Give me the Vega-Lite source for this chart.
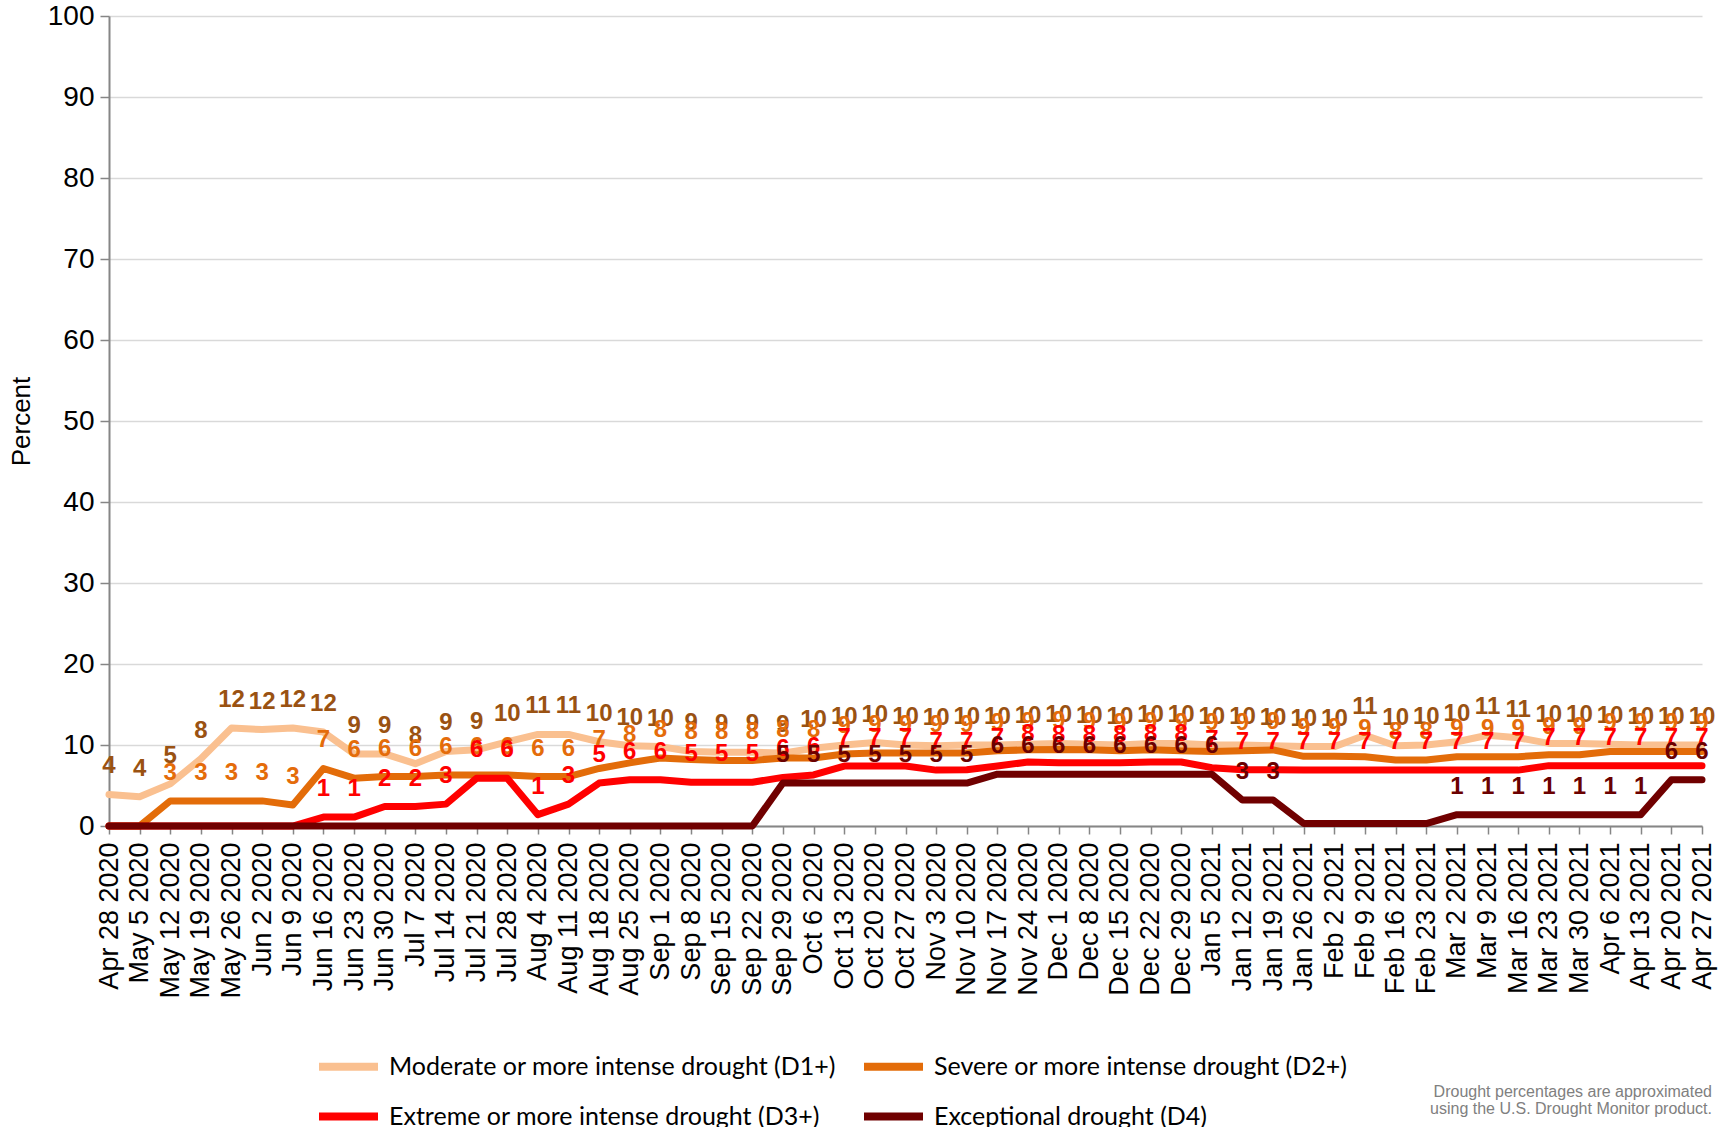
{
  "$schema": "https://vega.github.io/schema/vega-lite/v6.json",
  "width": 1593,
  "height": 810,
  "autosize": {"type": "none"},
  "padding": {"left": 109, "top": 16, "right": 33, "bottom": 301},
  "background": "white",
  "config": {"view": {"stroke": null}, "font": "Liberation Sans"},
  "title": {
    "text": ["Drought percentages are approximated", "using the U.S. Drought Monitor product."],
    "orient": "bottom",
    "anchor": "end",
    "align": "right",
    "frame": "group",
    "offset": 0,
    "dy": -49,
    "dx": 10,
    "fontSize": 16,
    "fontWeight": "normal",
    "color": "#808080",
    "lineHeight": 17,
    "font": "Liberation Sans"
  },
  "data": {
    "values": [
      {"week": "Apr 28 2020", "D1": 3.9, "D2": 0, "D3": 0, "D4": 0},
      {"week": "May 5 2020", "D1": 3.6, "D2": 0, "D3": 0, "D4": 0},
      {"week": "May 12 2020", "D1": 5.2, "D2": 3.1, "D3": 0, "D4": 0},
      {"week": "May 19 2020", "D1": 8.3, "D2": 3.1, "D3": 0, "D4": 0},
      {"week": "May 26 2020", "D1": 12.1, "D2": 3.1, "D3": 0, "D4": 0},
      {"week": "Jun 2 2020", "D1": 11.9, "D2": 3.1, "D3": 0, "D4": 0},
      {"week": "Jun 9 2020", "D1": 12.1, "D2": 2.6, "D3": 0, "D4": 0},
      {"week": "Jun 16 2020", "D1": 11.6, "D2": 7.1, "D3": 1.1, "D4": 0},
      {"week": "Jun 23 2020", "D1": 8.9, "D2": 5.9, "D3": 1.1, "D4": 0},
      {"week": "Jun 30 2020", "D1": 8.9, "D2": 6.1, "D3": 2.4, "D4": 0},
      {"week": "Jul 7 2020", "D1": 7.7, "D2": 6.1, "D3": 2.4, "D4": 0},
      {"week": "Jul 14 2020", "D1": 9.2, "D2": 6.3, "D3": 2.7, "D4": 0},
      {"week": "Jul 21 2020", "D1": 9.4, "D2": 6.3, "D3": 5.9, "D4": 0},
      {"week": "Jul 28 2020", "D1": 10.4, "D2": 6.3, "D3": 5.9, "D4": 0},
      {"week": "Aug 4 2020", "D1": 11.3, "D2": 6.1, "D3": 1.4, "D4": 0},
      {"week": "Aug 11 2020", "D1": 11.3, "D2": 6.1, "D3": 2.7, "D4": 0},
      {"week": "Aug 18 2020", "D1": 10.4, "D2": 7.1, "D3": 5.3, "D4": 0},
      {"week": "Aug 25 2020", "D1": 9.9, "D2": 7.8, "D3": 5.7, "D4": 0},
      {"week": "Sep 1 2020", "D1": 9.8, "D2": 8.4, "D3": 5.7, "D4": 0},
      {"week": "Sep 8 2020", "D1": 9.2, "D2": 8.2, "D3": 5.4, "D4": 0},
      {"week": "Sep 15 2020", "D1": 9.1, "D2": 8.1, "D3": 5.4, "D4": 0},
      {"week": "Sep 22 2020", "D1": 9.1, "D2": 8.1, "D3": 5.4, "D4": 0},
      {"week": "Sep 29 2020", "D1": 9.0, "D2": 8.4, "D3": 6.0, "D4": 5.3},
      {"week": "Oct 6 2020", "D1": 9.6, "D2": 8.4, "D3": 6.3, "D4": 5.3},
      {"week": "Oct 13 2020", "D1": 10.0, "D2": 8.9, "D3": 7.4, "D4": 5.3},
      {"week": "Oct 20 2020", "D1": 10.3, "D2": 9.0, "D3": 7.4, "D4": 5.3},
      {"week": "Oct 27 2020", "D1": 10.0, "D2": 9.0, "D3": 7.4, "D4": 5.3},
      {"week": "Nov 3 2020", "D1": 9.9, "D2": 9.0, "D3": 6.9, "D4": 5.3},
      {"week": "Nov 10 2020", "D1": 10.0, "D2": 9.0, "D3": 6.95, "D4": 5.3},
      {"week": "Nov 17 2020", "D1": 10.0, "D2": 9.3, "D3": 7.4, "D4": 6.4},
      {"week": "Nov 24 2020", "D1": 10.1, "D2": 9.4, "D3": 7.9, "D4": 6.4},
      {"week": "Dec 1 2020", "D1": 10.2, "D2": 9.45, "D3": 7.8, "D4": 6.4},
      {"week": "Dec 8 2020", "D1": 10.1, "D2": 9.4, "D3": 7.8, "D4": 6.4},
      {"week": "Dec 15 2020", "D1": 10.0, "D2": 9.3, "D3": 7.8, "D4": 6.4},
      {"week": "Dec 22 2020", "D1": 10.2, "D2": 9.4, "D3": 7.9, "D4": 6.4},
      {"week": "Dec 29 2020", "D1": 10.2, "D2": 9.3, "D3": 7.9, "D4": 6.4},
      {"week": "Jan 5 2021", "D1": 10.0, "D2": 9.2, "D3": 7.2, "D4": 6.4},
      {"week": "Jan 12 2021", "D1": 10.0, "D2": 9.3, "D3": 6.95, "D4": 3.2},
      {"week": "Jan 19 2021", "D1": 9.9, "D2": 9.4, "D3": 6.95, "D4": 3.2},
      {"week": "Jan 26 2021", "D1": 9.8, "D2": 8.6, "D3": 6.9, "D4": 0.3},
      {"week": "Feb 2 2021", "D1": 9.8, "D2": 8.6, "D3": 6.9, "D4": 0.3},
      {"week": "Feb 9 2021", "D1": 11.2, "D2": 8.55, "D3": 6.9, "D4": 0.3},
      {"week": "Feb 16 2021", "D1": 9.9, "D2": 8.15, "D3": 6.9, "D4": 0.3},
      {"week": "Feb 23 2021", "D1": 10.0, "D2": 8.15, "D3": 6.9, "D4": 0.3},
      {"week": "Mar 2 2021", "D1": 10.4, "D2": 8.55, "D3": 6.9, "D4": 1.4},
      {"week": "Mar 9 2021", "D1": 11.2, "D2": 8.55, "D3": 6.9, "D4": 1.4},
      {"week": "Mar 16 2021", "D1": 10.9, "D2": 8.55, "D3": 6.9, "D4": 1.4},
      {"week": "Mar 23 2021", "D1": 10.2, "D2": 8.8, "D3": 7.45, "D4": 1.4},
      {"week": "Mar 30 2021", "D1": 10.2, "D2": 8.8, "D3": 7.45, "D4": 1.4},
      {"week": "Apr 6 2021", "D1": 10.1, "D2": 9.2, "D3": 7.45, "D4": 1.4},
      {"week": "Apr 13 2021", "D1": 10.0, "D2": 9.2, "D3": 7.45, "D4": 1.4},
      {"week": "Apr 20 2021", "D1": 10.0, "D2": 9.2, "D3": 7.45, "D4": 5.7},
      {"week": "Apr 27 2021", "D1": 10.0, "D2": 9.2, "D3": 7.45, "D4": 5.7}
    ]
  },
  "transform": [{"fold": ["D1", "D2", "D3", "D4"], "as": ["series", "value"]}],
  "encoding": {
    "x": {
      "field": "week",
      "type": "ordinal",
      "sort": null,
      "scale": {"type": "point", "padding": 0},
      "axis": {
        "title": null,
        "labelAngle": -90,
        "labelFontSize": 27,
        "labelColor": "#000000",
        "labelPadding": 8,
        "tickSize": 8,
        "tickColor": "#868686",
        "tickWidth": 1.5,
        "domainColor": "#868686",
        "domainWidth": 2,
        "grid": false,
        "labelOverlap": false
      }
    },
    "y": {
      "field": "value",
      "type": "quantitative",
      "scale": {"domain": [0, 100], "nice": false},
      "axis": {
        "title": "Percent",
        "titleFontSize": 26,
        "titleFontWeight": "normal",
        "titleColor": "#000000",
        "titlePadding": 13,
        "values": [0, 10, 20, 30, 40, 50, 60, 70, 80, 90, 100],
        "labelFontSize": 28,
        "labelColor": "#000000",
        "labelPadding": 6,
        "tickSize": 9,
        "tickColor": "#868686",
        "tickWidth": 1.5,
        "domainColor": "#868686",
        "domainWidth": 2,
        "gridColor": "#D9D9D9",
        "gridWidth": 1.3
      }
    }
  },
  "layer": [
    {
      "mark": {"type": "line", "strokeWidth": 7, "strokeCap": "round", "strokeJoin": "round"},
      "encoding": {
        "color": {
          "field": "series",
          "type": "nominal",
          "scale": {"domain": ["D1", "D2", "D3", "D4"], "range": ["#FAC090", "#E36C09", "#FF0000", "#700000"]},
          "legend": {
            "title": null,
            "orient": "none",
            "legendX": 206,
            "legendY": 1017,
            "direction": "horizontal",
            "columns": 2,
            "columnPadding": 12,
            "rowPadding": -14,
            "symbolType": "stroke",
            "symbolSize": 3481,
            "symbolStrokeWidth": 8,
            "labelOffset": 7,
            "labelFont": "Lato",
            "labelFontSize": 25,
            "labelColor": "#000000",
            "labelLimit": 600,
            "labelExpr": "datum.label == 'D1' ? 'Moderate or more intense drought (D1+)' : datum.label == 'D2' ? 'Severe or more intense drought (D2+)' : datum.label == 'D3' ? 'Extreme or more intense drought (D3+)' : 'Exceptional drought (D4)'"
          }
        }
      }
    },
    {
      "transform": [{"filter": "datum.value >= 0.5"}],
      "mark": {"type": "text", "fontWeight": "bold", "fontSize": 24, "dy": -28, "baseline": "middle", "align": "center"},
      "encoding": {
        "text": {"field": "value", "type": "quantitative", "format": ".0f"},
        "color": {
          "field": "series",
          "type": "nominal",
          "scale": {"domain": ["D1", "D2", "D3", "D4"], "range": ["#9A5212", "#E46C0A", "#FF0000", "#6B0000"]},
          "legend": null
        }
      }
    }
  ],
  "resolve": {"scale": {"color": "independent"}}
}
